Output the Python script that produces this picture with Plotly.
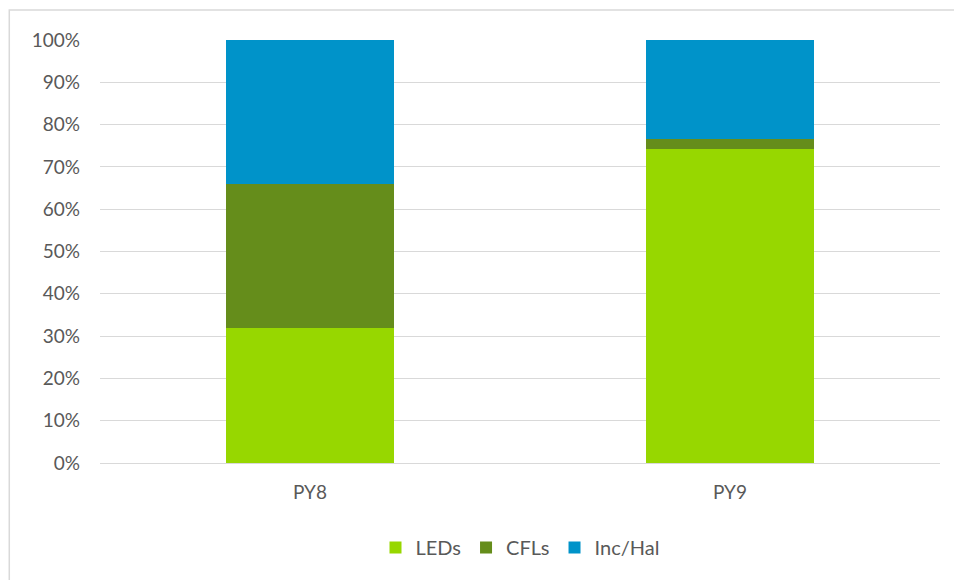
import plotly.graph_objects as go

categories = ["PY8", "PY9"]
leds = [0.32, 0.742]
cfls = [0.34, 0.024]
inc_hal = [0.34, 0.234]

colors = {"LEDs": "#97D700", "CFLs": "#658D1B", "Inc/Hal": "#0093C9"}

fig = go.Figure()
for name, vals in [("LEDs", leds), ("CFLs", cfls), ("Inc/Hal", inc_hal)]:
    fig.add_trace(go.Bar(x=categories, y=vals, name=name, marker_color=colors[name],
                         marker_line_width=0))

fig.update_layout(
    barmode="stack",
    bargap=0.6,
    width=954, height=580,
    margin=dict(l=100, r=14, t=40, b=117),
    paper_bgcolor="white", plot_bgcolor="white",
    font=dict(family="Lato, Open Sans, sans-serif", size=19, color="#595959"),
    legend=dict(orientation="h", x=0.5, xanchor="center", y=-0.2, yanchor="middle",
                font=dict(size=20, color="#595959"), traceorder="normal",
                itemwidth=30),
    showlegend=True,
)
fig.update_yaxes(range=[0, 1], tickformat=".0%", dtick=0.1, showgrid=True,
                 gridcolor="#D9D9D9", gridwidth=1, zeroline=False, ticks="",
                 ticklabelstandoff=19)
fig.update_xaxes(showline=True, linecolor="#D9D9D9", linewidth=1, ticks="",
                 ticklabelstandoff=12)
fig.add_shape(type="rect", xref="paper", yref="paper", x0=-0.108, x1=1.1, y0=-0.3, y1=1.071,
              line=dict(color="#D9D9D9", width=1.5), layer="below")

fig.write_html("out.html")
